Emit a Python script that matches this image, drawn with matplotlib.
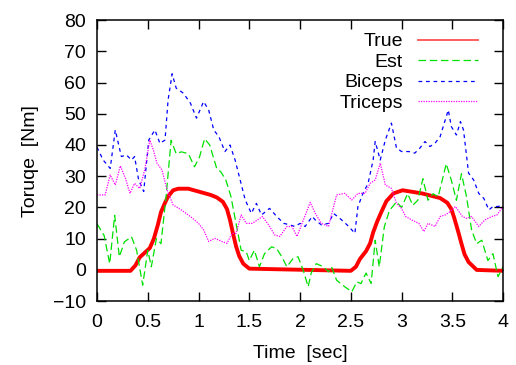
import numpy as np
import matplotlib
matplotlib.use('Agg')
import matplotlib.pyplot as plt

plt.rcParams['font.family'] = ['Liberation Sans', 'DejaVu Sans']

# True torque
t_true = [0.0, 0.33, 0.38, 0.42, 0.47, 0.52, 0.56, 0.60, 0.63, 0.67, 0.70, 0.75, 0.80,
          0.90, 1.01, 1.12, 1.18, 1.24, 1.28, 1.31, 1.34, 1.37, 1.40, 1.44, 1.50,
          2.50, 2.55, 2.59, 2.65, 2.69, 2.72, 2.76, 2.80, 2.85, 2.92, 3.01, 3.20,
          3.38, 3.45, 3.49, 3.52, 3.56, 3.59, 3.62, 3.66, 3.74, 4.0]
v_true = [-0.3, -0.3, 1.5, 4.0, 5.5, 7.0, 10.0, 14.5, 18.5, 21.5, 23.5, 25.5, 26.0,
          26.0, 25.0, 24.0, 23.2, 21.8, 19.5, 16.0, 11.6, 7.5, 4.5, 2.0, 0.4,
          -0.3, 1.0, 3.5, 6.0, 8.5, 12.0, 15.5, 18.5, 22.0, 24.5, 25.5, 24.5,
          23.0, 21.5, 19.5, 16.5, 12.0, 8.4, 5.0, 2.5, 0.0, -0.3]

# Estimated torque
t_est = [0.0, 0.07, 0.125, 0.174, 0.22, 0.27, 0.34, 0.39, 0.45, 0.50, 0.535, 0.585, 0.63,
         0.68, 0.73, 0.78, 0.83, 0.90, 0.96, 1.01, 1.06, 1.11, 1.18, 1.22, 1.27, 1.32,
         1.37, 1.42, 1.47, 1.50, 1.55, 1.60, 1.65, 1.72, 1.77, 1.82, 1.87, 1.93, 1.98,
         2.03, 2.08, 2.11, 2.16, 2.23, 2.28, 2.31, 2.36, 2.44, 2.51, 2.56, 2.60, 2.65,
         2.70, 2.74, 2.78, 2.83, 2.88, 2.95, 3.00, 3.06, 3.11, 3.16, 3.21, 3.26, 3.31,
         3.36, 3.44, 3.49, 3.54, 3.59, 3.64, 3.69, 3.74, 3.79, 3.85, 3.90, 3.95, 4.0]
v_est = [14.8, 11.0, 2.0, 17.5, 4.2, 9.0, 10.6, 6.3, -4.9, 6.3, 1.0, 10.0, 8.4,
         23.4, 41.5, 37.2, 37.8, 37.2, 33.0, 36.2, 42.0, 40.0, 32.4, 31.4, 28.7, 23.4,
         14.8, 6.3, 5.8, 3.0, 6.3, 1.0, 5.2, 7.4, 6.8, 4.2, 1.0, 3.6, 4.2,
         0.0, -5.4, -1.0, 2.0, 1.0, -0.6, 1.0, -3.3, -5.4, -7.0, -3.8, -4.4, -1.0,
         -4.4, 9.5, 1.0, 13.8, 19.0, 21.8, 20.0, 24.4, 20.7, 22.3, 29.2, 22.3, 24.4,
         23.4, 34.0, 28.7, 22.3, 30.8, 23.4, 12.7, 8.4, 9.5, 3.0, 5.2, -2.2, 1.0]

# Biceps
t_bic = [0.0, 0.06, 0.13, 0.18, 0.24, 0.29, 0.34, 0.37, 0.41, 0.46, 0.51, 0.57, 0.62,
         0.67, 0.70, 0.74, 0.78, 0.85, 0.92, 0.98, 1.05, 1.10, 1.15, 1.20, 1.26, 1.31,
         1.36, 1.41, 1.46, 1.52, 1.57, 1.62, 1.70, 1.77, 1.84, 1.90, 1.95, 2.00, 2.05,
         2.12, 2.15, 2.21, 2.28, 2.33, 2.41, 2.48, 2.54, 2.57, 2.62, 2.67, 2.72, 2.74,
         2.79, 2.84, 2.90, 2.95, 3.00, 3.07, 3.13, 3.18, 3.23, 3.28, 3.33, 3.38, 3.43,
         3.46, 3.49, 3.54, 3.58, 3.61, 3.66, 3.71, 3.76, 3.81, 3.86, 3.90, 3.95, 4.0]
v_bic = [39.3, 35.2, 32.5, 44.8, 36.3, 36.8, 35.2, 36.3, 28.8, 25.1, 41.6, 44.8, 40.5,
         41.6, 54.4, 62.8, 58.2, 56.6, 53.4, 48.6, 53.9, 51.2, 44.8, 42.7, 37.9, 40.0,
         35.2, 28.8, 22.4, 18.1, 21.3, 17.6, 19.7, 17.1, 14.9, 14.4, 13.9, 14.9, 13.9,
         17.1, 16.0, 14.4, 14.9, 18.1, 16.0, 13.9, 11.7, 20.3, 24.5, 27.7, 35.2, 41.1,
         35.2, 41.6, 47.0, 39.0, 37.9, 37.9, 37.4, 39.0, 41.1, 39.5, 40.6, 42.7, 48.0,
         51.2, 45.9, 43.2, 47.5, 44.8, 31.0, 28.8, 24.5, 22.9, 19.2, 20.3, 20.3, 20.8]

# Triceps
t_tri = [0.0, 0.08, 0.13, 0.18, 0.23, 0.28, 0.325, 0.37, 0.42, 0.47, 0.52, 0.555, 0.59,
         0.64, 0.69, 0.75, 0.83, 0.92, 1.00, 1.05, 1.10, 1.16, 1.23, 1.28, 1.33, 1.37,
         1.42, 1.47, 1.53, 1.58, 1.63, 1.69, 1.75, 1.80, 1.87, 1.92, 1.97, 2.02, 2.10,
         2.15, 2.21, 2.28, 2.36, 2.44, 2.51, 2.57, 2.64, 2.69, 2.74, 2.79, 2.84, 2.90,
         2.95, 3.00, 3.04, 3.10, 3.17, 3.22, 3.26, 3.33, 3.38, 3.43, 3.48, 3.53, 3.60,
         3.64, 3.69, 3.76, 3.82, 3.89, 3.94, 4.0]
v_tri = [24.0, 24.0, 30.4, 27.2, 33.3, 29.3, 24.5, 27.7, 26.1, 32.0, 41.6, 38.4, 34.2,
         32.0, 25.6, 20.8, 19.2, 17.1, 14.9, 12.8, 9.1, 10.1, 9.1, 8.5, 11.7, 11.7,
         17.6, 14.9, 14.9, 16.0, 17.1, 14.4, 11.2, 10.7, 13.9, 13.9, 10.7, 14.9, 21.6,
         18.1, 14.9, 13.9, 24.0, 24.5, 22.4, 24.5, 24.5, 27.7, 28.8, 34.2, 27.2, 26.1,
         21.3, 19.7, 17.1, 16.0, 14.9, 12.3, 14.9, 13.9, 17.1, 17.6, 18.7, 20.3, 17.1,
         16.5, 17.1, 13.9, 16.0, 17.1, 17.6, 20.3]

fig = plt.figure(figsize=(5.16, 3.65), dpi=100)
ax = fig.add_axes([0.188, 0.175, 0.787, 0.77])

ax.plot(t_true, v_true, color='#ff0000', lw=2.8, label='True')
ax.plot(t_est, v_est, color='#00e000', lw=0.9, dashes=(6, 3), label='Est')
ax.plot(t_bic, v_bic, color='#0000ff', lw=0.9, dashes=(3, 3), label='Biceps')
ax.plot(t_tri, v_tri, color='#ff00ff', lw=0.9, dashes=(1, 1), label='Triceps')

ax.set_xlim(0, 4)
ax.set_ylim(-10, 80)
ax.set_xticks(np.arange(0, 4.01, 0.5))
ax.set_xticklabels(['0', '0.5', '1', '1.5', '2', '2.5', '3', '3.5', '4'])
ax.set_yticks(np.arange(-10, 81, 10))
ax.tick_params(direction='in', length=6.5, width=1, top=True, right=True, labelsize=14)
ax.tick_params(axis='x', pad=9)
ax.tick_params(axis='y', pad=8)
for s in ax.spines.values():
    s.set_linewidth(1.1)

ax.set_xlabel('Time  [sec]', fontsize=14, labelpad=10)
ax.set_ylabel('Toruqe  [Nm]', fontsize=14, labelpad=10)

leg = ax.legend(loc='upper right', bbox_to_anchor=(0.938, 0.955), markerfirst=False,
                frameon=False, fontsize=14, handlelength=3.1, handletextpad=0.75,
                labelspacing=0.15, borderaxespad=0, borderpad=0)
leg.get_lines()[0].set_linewidth(1.3)
leg.get_lines()[0].set_color('#ff5050')

fig.savefig('out.png', dpi=100)
